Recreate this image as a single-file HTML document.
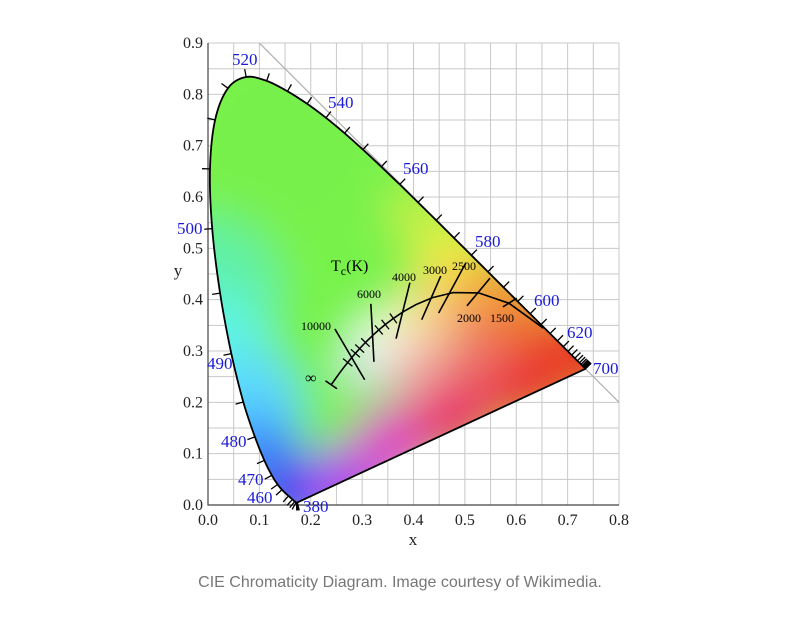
<!DOCTYPE html>
<html><head><meta charset="utf-8"><style>
html,body{margin:0;padding:0;background:#fff;width:800px;height:636px;overflow:hidden}
svg{position:absolute;left:0;top:0}
.cap{position:absolute;left:0;width:800px;top:574px;text-align:center;font-family:"Liberation Sans",sans-serif;font-size:16px;color:#777}
</style></head><body>
<svg id="chart" width="800" height="636" xmlns="http://www.w3.org/2000/svg">
<defs>
<clipPath id="locusClip"><path id="clipPath"/></clipPath>
<filter id="blur" x="-50%" y="-50%" width="200%" height="200%"><feGaussianBlur stdDeviation="22"/></filter>
</defs>
<g id="grid"></g>
<g id="fill" clip-path="url(#locusClip)"></g>
<g id="marks"></g>
</svg>
<div class="cap">CIE Chromaticity Diagram. Image courtesy of Wikimedia.</div>
<script>
// spectral locus data
const wavelengths=[380,385,390,395,400,405,410,415,420,425,430,435,440,445,450,455,460,465,470,475,480,485,490,495,500,505,510,515,520,525,530,535,540,545,550,555,560,565,570,575,580,585,590,595,600,605,610,615,620,625,630,635,640,645,650,655,660,665,670,675,680,685,690,695,700];
const locusX=[.1741,.1740,.1738,.1736,.1733,.1730,.1726,.1721,.1714,.1703,.1689,.1669,.1644,.1611,.1566,.1510,.1440,.1355,.1241,.1096,.0913,.0687,.0454,.0235,.0082,.0039,.0139,.0389,.0743,.1142,.1547,.1929,.2296,.2658,.3016,.3373,.3731,.4087,.4441,.4788,.5125,.5448,.5752,.6029,.6270,.6482,.6658,.6801,.6915,.7006,.7079,.7140,.7190,.7230,.7260,.7283,.7300,.7311,.7320,.7327,.7334,.7340,.7344,.7346,.7347];
const locusY=[.0050,.0050,.0049,.0049,.0048,.0048,.0048,.0048,.0051,.0058,.0069,.0086,.0109,.0138,.0177,.0227,.0297,.0399,.0578,.0868,.1327,.2007,.2950,.4127,.5384,.6548,.7502,.8120,.8338,.8262,.8059,.7816,.7543,.7243,.6923,.6589,.6245,.5896,.5547,.5202,.4866,.4544,.4242,.3965,.3725,.3514,.3340,.3197,.3083,.2993,.2920,.2859,.2809,.2770,.2740,.2717,.2700,.2689,.2680,.2673,.2666,.2660,.2656,.2654,.2653];
const labelWl=[380,460,470,480,490,500,520,540,560,580,600,620,700];
// Planckian locus
const planckT=[1000,1500,2000,2500,3000,3500,4000,4500,5000,5500,6000,7000,8000,9000,10000,12000,15000,20000,40000,1e9];
const planckX=[.6528,.5857,.5267,.4770,.4369,.4053,.3805,.3608,.3451,.3325,.3221,.3064,.2952,.2869,.2807,.2720,.2637,.2565,.2476,.2399];
const planckY=[.3444,.3931,.4133,.4137,.4041,.3907,.3768,.3636,.3516,.3411,.3318,.3166,.3048,.2956,.2883,.2777,.2673,.2577,.2453,.2342];
const isoLabels=["10000","6000","4000","3000","2500","2000","1500"];
const isoX1=[.247,.317,.393,.453,.502,.549,.601];
const isoY1=[.343,.392,.433,.446,.472,.442,.403];
const isoX2=[.305,.323,.366,.416,.449,.504,.574];
const isoY2=[.244,.279,.324,.361,.374,.388,.386];
const minorT=[4500,5000,5500,7000,8000,9000,12000];
const xTicks=[0,.1,.2,.3,.4,.5,.6,.7,.8];
const yTicks=[0,.1,.2,.3,.4,.5,.6,.7,.8,.9];

const X=v=>208+v*513.75, Y=v=>505-v*513.3;
const NS="http://www.w3.org/2000/svg";
function mk(tag,parent,attrs){const e=document.createElementNS(NS,tag);for(const k in attrs)e.setAttribute(k,attrs[k]);parent.appendChild(e);return e;}
const grid=document.getElementById('grid'),fill=document.getElementById('fill'),marks=document.getElementById('marks');
for(let i=0;i<=16;i++){const l=mk('line',grid,{x1:X(i*.05),x2:X(i*.05),y1:Y(0),y2:Y(.9),stroke:'#c8c8c8','stroke-width':1});
}
for(let i=0;i<=18;i++){const l=mk('line',grid,{x1:X(0),x2:X(.8),y1:Y(i*.05),y2:Y(i*.05),stroke:'#c8c8c8','stroke-width':1});
}
const diag=mk('line',grid,{x1:X(.1),y1:Y(.9),x2:X(.8),y2:Y(.2),stroke:'#b0b0b0','stroke-width':1.2});

const ax=mk('path',grid,{d:`M${X(0)} ${Y(.9)}V${Y(0)}H${X(.8)}`,stroke:'#444',fill:'none','stroke-width':1.2});

const P=locusX.map((x,i)=>[X(x),Y(locusY[i])]);
let d='M'+P[0][0].toFixed(1)+' '+P[0][1].toFixed(1);
for(let i=0;i<P.length-1;i++){const p0=P[Math.max(0,i-1)],p1=P[i],p2=P[i+1],p3=P[Math.min(P.length-1,i+2)];
 d+='C'+(p1[0]+(p2[0]-p0[0])/6).toFixed(1)+' '+(p1[1]+(p2[1]-p0[1])/6).toFixed(1)+' '+(p2[0]-(p3[0]-p1[0])/6).toFixed(1)+' '+(p2[1]-(p3[1]-p1[1])/6).toFixed(1)+' '+p2[0].toFixed(1)+' '+p2[1].toFixed(1);}
d+='Z';
document.getElementById('clipPath').setAttribute('d',d);
const g=mk('g',fill,{filter:'url(#blur)'});
mk('rect',g,{x:100,y:0,width:600,height:560,fill:'#78f24c'});
const blobs=[[.0,.42,.14,'#60f0a8'],[.0,.3,.12,'#5ef4e4'],[.08,.2,.1,'#5cd8ff'],[.1,.1,.08,'#3c8cff'],[.16,.02,.08,'#3a3cf4'],[.27,.04,.08,'#b040f0'],[.36,.12,.08,'#e040c8'],[.48,.18,.09,'#e8386c'],[.62,.25,.1,'#ea3434'],[.74,.3,.1,'#e83a28'],[.6,.38,.07,'#f07a30'],[.54,.44,.06,'#f4a038'],[.47,.5,.06,'#eeee40'],[.4,.57,.05,'#c8f048'],
[.44,.42,.05,'#f6d860'],[.5,.36,.05,'#f29a50'],[.44,.33,.05,'#f6c89a'],[.52,.28,.06,'#ec6a6a'],
[.33,.32,.045,'#ffffff'],[.3,.27,.04,'#e8e4ff'],[.38,.36,.04,'#f8f0b8'],[.4,.26,.05,'#f4a8b0'],[.15,.7,.15,'#78f04c']];
blobs.forEach(b=>{mk('circle',g,{cx:X(b[0]),cy:Y(b[1]),r:b[2]*513,fill:b[3]});});
const lp=mk('path',marks,{d:d,fill:'none',stroke:'#000','stroke-width':1.8,'stroke-linejoin':'round'});

const cx0=X(.33),cy0=Y(.33);
for(let i=0;i<wavelengths.length;i++){
  const a=Math.max(0,i-1),b=Math.min(wavelengths.length-1,i+1);
  let tx=X(locusX[b])-X(locusX[a]),ty=Y(locusY[b])-Y(locusY[a]);const n=Math.hypot(tx,ty)||1;
  let nx=ty/n,ny=-tx/n;const px=X(locusX[i]),py=Y(locusY[i]);
  if((px-cx0)*nx+(py-cy0)*ny<0){nx=-nx;ny=-ny;}
  if(wavelengths[i]<460&&wavelengths[i]%10)continue;
  const t=mk('line',marks,{x1:px,y1:py,x2:px+nx*8,y2:py+ny*8,stroke:'#000','stroke-width':1.3});
  
}
const labelPos={380:[303,512],460:[247,503],470:[238,485],480:[221,447],490:[207,369],500:[177,234],520:[232,65],540:[328,108],560:[403,174],580:[475,247],600:[534,306],620:[567,338],700:[593,374]};
labelWl.forEach(w=>{const p=labelPos[w];
 const t=mk('text',marks,{x:p[0],y:p[1],fill:'#1a1ad8','font-family':'Liberation Serif, serif','font-size':17});
 t.textContent=w;});
let pd='';for(let i=0;i<planckX.length;i++)pd+=(i?'L':'M')+X(planckX[i]).toFixed(1)+' '+Y(planckY[i]).toFixed(1);
const pl=mk('path',marks,{d:pd,fill:'none',stroke:'#000','stroke-width':1.6,'stroke-linejoin':'round'});

{const n=planckX.length-1;const tx=X(planckX[n])-X(planckX[n-1]),ty=Y(planckY[n])-Y(planckY[n-1]);const m=Math.hypot(tx,ty);
const ex=ty/m*7,ey=-tx/m*7;const e=mk('line',marks,{x1:X(planckX[n])-ex,y1:Y(planckY[n])-ey,x2:X(planckX[n])+ex,y2:Y(planckY[n])+ey,stroke:'#000','stroke-width':1.6});
}
minorT.forEach(T=>{const i=planckT.indexOf(T);const tx=X(planckX[i+1])-X(planckX[i-1]),ty=Y(planckY[i+1])-Y(planckY[i-1]);const m=Math.hypot(tx,ty);
const ex=ty/m*6,ey=-tx/m*6;const e=mk('line',marks,{x1:X(planckX[i])-ex,y1:Y(planckY[i])-ey,x2:X(planckX[i])+ex,y2:Y(planckY[i])+ey,stroke:'#000','stroke-width':1.3});
});
isoLabels.forEach((s,i)=>{const l=mk('line',marks,{x1:X(isoX1[i]),y1:Y(isoY1[i]),x2:X(isoX2[i]),y2:Y(isoY2[i]),stroke:'#000','stroke-width':1.6});
});
const isoTextPos=[[301,330],[357,298],[392,281],[423,274],[452,270],[457,322],[490,322]];
isoLabels.forEach((s,i)=>{const t=mk('text',marks,{x:isoTextPos[i][0],y:isoTextPos[i][1],'font-family':'Liberation Serif, serif','font-size':12,fill:'#000'});
t.textContent=s;});
const inf=mk('text',marks,{x:305,y:383,'font-family':'Liberation Serif, serif','font-size':16,fill:'#000'});inf.textContent='∞';

const tc=mk('text',marks,{x:331,y:271,'font-family':'Liberation Serif, serif','font-size':16,fill:'#000'});
tc.innerHTML='T<tspan font-size="12" dy="4">c</tspan><tspan dy="-4">(K)</tspan>';

xTicks.forEach(v=>{const t=mk('text',marks,{x:X(v),y:525,'text-anchor':'middle','font-family':'Liberation Serif, serif','font-size':16,fill:'#222'});t.textContent=v.toFixed(1);
});
yTicks.forEach(v=>{const t=mk('text',marks,{x:203,y:Y(v)+5,'text-anchor':'end','font-family':'Liberation Serif, serif','font-size':16,fill:'#222'});t.textContent=v.toFixed(1);
});
const xl=mk('text',marks,{x:413,y:545,'text-anchor':'middle','font-family':'Liberation Serif, serif','font-size':17,fill:'#222'});xl.textContent='x';

const yl=mk('text',marks,{x:178,y:276,'text-anchor':'middle','font-family':'Liberation Serif, serif','font-size':17,fill:'#222'});yl.textContent='y';

</script>
</body></html>
